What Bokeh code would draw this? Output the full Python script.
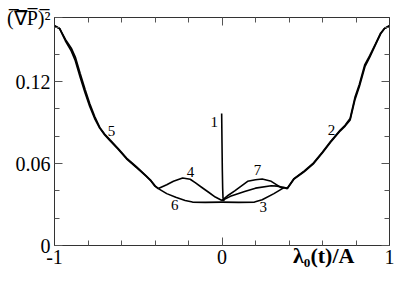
from bokeh.plotting import figure
from bokeh.models import Range1d, FixedTicker, LinearAxis, Label
from bokeh.embed import file_html
from bokeh.resources import INLINE

# ---- data ----
env_left_x = [-1.0, -0.97, -0.935, -0.9, -0.876, -0.847, -0.818, -0.79, -0.76, -0.73, -0.70, -0.67, -0.62, -0.57, -0.51, -0.453, -0.424, -0.40, -0.38]
env_left_y_a = [0.161, 0.159, 0.150, 0.1425, 0.1355, 0.1235, 0.112, 0.102, 0.093, 0.086, 0.081, 0.077, 0.0705, 0.0635, 0.057, 0.0508, 0.0473, 0.0435, 0.0417]
env_left_y_b = [0.161, 0.159, 0.151, 0.1445, 0.138, 0.126, 0.1145, 0.104, 0.0945, 0.0865, 0.0815, 0.0775, 0.071, 0.064, 0.0575, 0.051, 0.0475, 0.0437, 0.0417]

env_right_x = [0.37, 0.39, 0.43, 0.49, 0.547, 0.60, 0.647, 0.706, 0.735, 0.765, 0.794, 0.82, 0.853, 0.882, 0.918, 0.947, 0.97, 1.0]
env_right_y_a = [0.0424, 0.0417, 0.0487, 0.054, 0.060, 0.068, 0.0755, 0.084, 0.0875, 0.092, 0.107, 0.1165, 0.131, 0.138, 0.1475, 0.155, 0.159, 0.161]
env_right_y_b = [0.0424, 0.0420, 0.0490, 0.0545, 0.0605, 0.0685, 0.076, 0.0845, 0.088, 0.093, 0.1085, 0.118, 0.1325, 0.139, 0.148, 0.1555, 0.159, 0.161]

curve1_x = [-0.002, 0.0, 0.002, 0.004, 0.006, 0.012]
curve1_y = [0.0967, 0.075, 0.055, 0.042, 0.035, 0.0325]

curve4_x = [-0.38, -0.33, -0.29, -0.235, -0.19, -0.16, -0.12, -0.08, -0.04, 0.0]
curve4_y = [0.0417, 0.0445, 0.047, 0.0494, 0.0485, 0.046, 0.0425, 0.039, 0.0355, 0.033]

curve6_x = [-0.38, -0.33, -0.276, -0.22, -0.176, -0.1, 0.0]
curve6_y = [0.0417, 0.038, 0.0353, 0.033, 0.0318, 0.0316, 0.0318]

curve7_x = [0.0, 0.04, 0.076, 0.153, 0.20, 0.24, 0.294, 0.353, 0.37]
curve7_y = [0.033, 0.037, 0.040, 0.047, 0.0482, 0.0487, 0.047, 0.0424, 0.0424]

curve2_x = [0.0, 0.05, 0.135, 0.20, 0.294, 0.33, 0.37]
curve2_y = [0.033, 0.036, 0.0395, 0.042, 0.0438, 0.0435, 0.0424]

curve3_x = [0.0, 0.1, 0.194, 0.24, 0.31, 0.37]
curve3_y = [0.0318, 0.0316, 0.0318, 0.0335, 0.038, 0.0424]

curve_labels = ["1", "2", "3", "4", "5", "6", "7"]
curve_label_x = [-0.047, 0.653, 0.247, -0.188, -0.659, -0.282, 0.212]
curve_label_y = [0.0904, 0.0847, 0.0282, 0.0537, 0.084, 0.0297, 0.055]

Y_TOP = 0.167
x_major = [-1, 0, 1]
x_minor = [-0.8, -0.6, -0.4, -0.2, 0.2, 0.4, 0.6, 0.8]
y_major = [0, 0.06, 0.12]
y_minor = [0.02, 0.04, 0.08, 0.10, 0.14, 0.16]
x_tick_labels = {-1: "-1", 0: "0", 1: "1"}
y_tick_labels = {0: "0", 0.06: "0.06", 0.12: "0.12", Y_TOP: "(\u0305\u2207\u0305P\u0305)\u0305\u00b2"}
x_title = "\u03bb\u2080(t)/A"

SERIF = "Liberation Serif"

p = figure(width=394, height=273, x_range=Range1d(-1, 1), y_range=Range1d(0, Y_TOP),
           output_backend="svg", toolbar_location=None,
           min_border_left=54, min_border_right=5, min_border_top=17, min_border_bottom=28)
p.xgrid.visible = False
p.ygrid.visible = False
p.outline_line_color = "#333333"
p.background_fill_color = "white"
p.border_fill_color = "white"

bottom_ax = p.below[0]
left_ax = p.left[0]

def style_axis(ax, ticks, minor, labels, show_labels):
    ax.ticker = FixedTicker(ticks=ticks, minor_ticks=minor)
    ax.axis_line_color = "#333333"
    ax.major_tick_line_color = "#555555"
    ax.minor_tick_line_color = "#555555"
    ax.major_tick_in = 8
    ax.major_tick_out = 0
    ax.minor_tick_in = 5
    ax.minor_tick_out = 0
    ax.major_label_text_font = SERIF
    if show_labels:
        ax.major_label_overrides = labels
        ax.major_label_text_font_size = "20px"
        ax.major_label_text_color = "black"
        ax.major_label_standoff = 4
    else:
        ax.major_label_overrides = {t: "" for t in ticks}
        ax.major_label_text_color = None
        ax.major_label_standoff = 0

style_axis(bottom_ax, x_major, x_minor, x_tick_labels, True)
style_axis(left_ax, y_major + [Y_TOP], y_minor, y_tick_labels, True)
top_ax = LinearAxis()
right_ax = LinearAxis()
style_axis(top_ax, x_major, x_minor, {}, False)
style_axis(right_ax, y_major, y_minor, {}, False)
p.add_layout(top_ax, "above")
p.add_layout(right_ax, "right")

# x-axis title, at the level of the tick labels, in the right part
bottom_ax.axis_label = "\u00a0" * 37 + x_title
bottom_ax.axis_label_align = "center"
bottom_ax.axis_label_text_font = SERIF
bottom_ax.axis_label_text_font_style = "bold"
bottom_ax.axis_label_text_font_size = "22px"
bottom_ax.axis_label_text_color = "black"
bottom_ax.axis_label_standoff = -24

# curves
for ys in (env_left_y_a, env_left_y_b):
    p.line(env_left_x, ys, line_color="black", line_width=1.7)
for ys in (env_right_y_a, env_right_y_b):
    p.line(env_right_x, ys, line_color="black", line_width=1.7)
for cx, cy in ((curve1_x, curve1_y), (curve4_x, curve4_y), (curve6_x, curve6_y),
               (curve7_x, curve7_y), (curve2_x, curve2_y), (curve3_x, curve3_y)):
    p.line(cx, cy, line_color="black", line_width=1.6)

for t, lx, ly in zip(curve_labels, curve_label_x, curve_label_y):
    p.add_layout(Label(x=lx, y=ly, text=t, text_font=SERIF, text_font_size="15px",
                       text_align="center", text_baseline="middle", text_color="black"))

open("out.html", "w").write(file_html(p, INLINE))
